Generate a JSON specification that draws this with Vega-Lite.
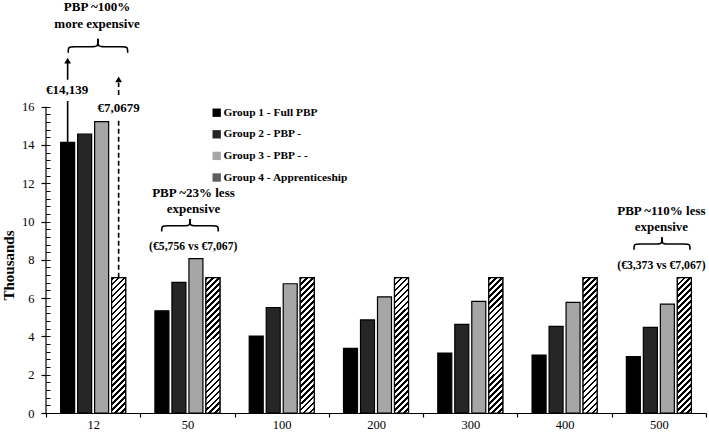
{
  "$schema": "https://vega.github.io/schema/vega-lite/v6.json",
  "width": 660,
  "height": 413,
  "autosize": {"type": "none"},
  "padding": {"left": 46, "top": 0, "right": 3, "bottom": 23},
  "background": "white",
  "config": {
    "view": {"stroke": null},
    "font": "Liberation Serif",
    "axis": {"labelFont": "Liberation Serif", "titleFont": "Liberation Serif", "labelColor": "#000", "titleColor": "#000", "tickColor": "#000", "domainColor": "#000", "grid": false},
    "legend": {"labelFont": "Liberation Serif"}
  },
  "datasets": {
    "costs": [
      {"size": "12", "group": "Group 1 - Full PBP", "cost": 14.139},
      {"size": "12", "group": "Group 2 - PBP -", "cost": 14.56},
      {"size": "12", "group": "Group 3 - PBP - -", "cost": 15.22},
      {"size": "12", "group": "Group 4 - Apprenticeship", "cost": 7.067},
      {"size": "50", "group": "Group 1 - Full PBP", "cost": 5.34},
      {"size": "50", "group": "Group 2 - PBP -", "cost": 6.82},
      {"size": "50", "group": "Group 3 - PBP - -", "cost": 8.06},
      {"size": "50", "group": "Group 4 - Apprenticeship", "cost": 7.067},
      {"size": "100", "group": "Group 1 - Full PBP", "cost": 4.02},
      {"size": "100", "group": "Group 2 - PBP -", "cost": 5.51},
      {"size": "100", "group": "Group 3 - PBP - -", "cost": 6.75},
      {"size": "100", "group": "Group 4 - Apprenticeship", "cost": 7.067},
      {"size": "200", "group": "Group 1 - Full PBP", "cost": 3.37},
      {"size": "200", "group": "Group 2 - PBP -", "cost": 4.86},
      {"size": "200", "group": "Group 3 - PBP - -", "cost": 6.07},
      {"size": "200", "group": "Group 4 - Apprenticeship", "cost": 7.067},
      {"size": "300", "group": "Group 1 - Full PBP", "cost": 3.13},
      {"size": "300", "group": "Group 2 - PBP -", "cost": 4.63},
      {"size": "300", "group": "Group 3 - PBP - -", "cost": 5.83},
      {"size": "300", "group": "Group 4 - Apprenticeship", "cost": 7.067},
      {"size": "400", "group": "Group 1 - Full PBP", "cost": 3.03},
      {"size": "400", "group": "Group 2 - PBP -", "cost": 4.52},
      {"size": "400", "group": "Group 3 - PBP - -", "cost": 5.78},
      {"size": "400", "group": "Group 4 - Apprenticeship", "cost": 7.067},
      {"size": "500", "group": "Group 1 - Full PBP", "cost": 2.94},
      {"size": "500", "group": "Group 2 - PBP -", "cost": 4.47},
      {"size": "500", "group": "Group 3 - PBP - -", "cost": 5.69},
      {"size": "500", "group": "Group 4 - Apprenticeship", "cost": 7.067}
    ],
    "arrows": [
      {"style": "solid", "x": 0.2295, "y": 14.139, "y2": 16.3},
      {"style": "solid", "x": 0.2295, "y": 17.4, "y2": 18.3},
      {"style": "dashed", "x": 0.7704, "y": 7.067, "y2": 15.4},
      {"style": "dashed", "x": 0.7704, "y": 16.61, "y2": 17.25}
    ],
    "heads": [
      {"x": 0.2295, "y": 18.4},
      {"x": 0.7704, "y": 17.42}
    ],
    "notes": [
      {"label": "PBP ~100%", "x": 0.541, "y": 21.19},
      {"label": "more expensive", "x": 0.541, "y": 20.32},
      {"label": "€14,139", "x": 0.223, "y": 16.87},
      {"label": "€7,0679", "x": 0.769, "y": 15.93},
      {"label": "PBP ~23% less", "x": 1.564, "y": 11.5},
      {"label": "expensive", "x": 1.564, "y": 10.66},
      {"label": "PBP ~110% less", "x": 6.527, "y": 10.55},
      {"label": "expensive", "x": 6.527, "y": 9.7}
    ],
    "comparisons": [
      {"label": "(€5,756 vs €7,067)", "x": 1.562, "y": 8.7},
      {"label": "(€3,373 vs €7,067)", "x": 6.527, "y": 7.74}
    ],
    "braces": [
      {"part": "a1", "order": 1, "x": 0.236, "y": 18.82},
      {"part": "a1", "order": 2, "x": 0.236, "y": 19.13},
      {"part": "a1", "order": 3, "x": 0.278, "y": 19.13},
      {"part": "a1", "order": 4, "x": 0.509, "y": 19.13},
      {"part": "a1", "order": 5, "x": 0.551, "y": 19.13},
      {"part": "a1", "order": 6, "x": 0.551, "y": 19.54},
      {"part": "a2", "order": 1, "x": 0.866, "y": 18.82},
      {"part": "a2", "order": 2, "x": 0.866, "y": 19.13},
      {"part": "a2", "order": 3, "x": 0.824, "y": 19.13},
      {"part": "a2", "order": 4, "x": 0.593, "y": 19.13},
      {"part": "a2", "order": 5, "x": 0.551, "y": 19.13},
      {"part": "a2", "order": 6, "x": 0.551, "y": 19.54},
      {"part": "b1", "order": 1, "x": 1.227, "y": 9.48},
      {"part": "b1", "order": 2, "x": 1.227, "y": 9.78},
      {"part": "b1", "order": 3, "x": 1.269, "y": 9.78},
      {"part": "b1", "order": 4, "x": 1.485, "y": 9.78},
      {"part": "b1", "order": 5, "x": 1.527, "y": 9.78},
      {"part": "b1", "order": 6, "x": 1.527, "y": 10.13},
      {"part": "b2", "order": 1, "x": 1.827, "y": 9.48},
      {"part": "b2", "order": 2, "x": 1.827, "y": 9.78},
      {"part": "b2", "order": 3, "x": 1.785, "y": 9.78},
      {"part": "b2", "order": 4, "x": 1.569, "y": 9.78},
      {"part": "b2", "order": 5, "x": 1.527, "y": 9.78},
      {"part": "b2", "order": 6, "x": 1.527, "y": 10.13},
      {"part": "c1", "order": 1, "x": 6.236, "y": 8.53},
      {"part": "c1", "order": 2, "x": 6.236, "y": 8.83},
      {"part": "c1", "order": 3, "x": 6.278, "y": 8.83},
      {"part": "c1", "order": 4, "x": 6.491, "y": 8.83},
      {"part": "c1", "order": 5, "x": 6.533, "y": 8.83},
      {"part": "c1", "order": 6, "x": 6.533, "y": 9.18},
      {"part": "c2", "order": 1, "x": 6.83, "y": 8.53},
      {"part": "c2", "order": 2, "x": 6.83, "y": 8.83},
      {"part": "c2", "order": 3, "x": 6.788, "y": 8.83},
      {"part": "c2", "order": 4, "x": 6.575, "y": 8.83},
      {"part": "c2", "order": 5, "x": 6.533, "y": 8.83},
      {"part": "c2", "order": 6, "x": 6.533, "y": 9.18}
    ]
  },
  "layer": [
    {
      "data": {"name": "costs"},
      "mark": {"type": "bar", "stroke": "#000", "strokeWidth": 1.2},
      "encoding": {
        "x": {
          "field": "size", "type": "ordinal",
          "sort": ["12", "50", "100", "200", "300", "400", "500"],
          "scale": {"paddingInner": 0, "paddingOuter": 0},
          "axis": {"title": null, "tickBand": "extent", "labelAngle": 0, "labelFontSize": 12.5, "labelPadding": 1, "tickSize": 4, "domainWidth": 1.2, "tickWidth": 1.2}
        },
        "xOffset": {
          "field": "group", "type": "nominal",
          "scale": {"domain": ["Group 1 - Full PBP", "Group 2 - PBP -", "Group 3 - PBP - -", "Group 4 - Apprenticeship"], "paddingInner": 0.176, "paddingOuter": 0.861}
        },
        "y": {
          "field": "cost", "type": "quantitative",
          "scale": {"domain": [0, 21.57], "nice": false},
          "axis": {
            "title": "Thousands", "values": [0, 2, 4, 6, 8, 10, 12, 14, 16],
            "domain": false, "tickSize": 5, "tickWidth": 1.2, "labelFontSize": 12.5, "labelPadding": 7,
            "titleFontSize": 15, "titleFontWeight": "bold", "titleAngle": 270,
            "titleX": -33, "titleY": 265, "titleBaseline": "alphabetic", "titleAlign": "center"
          }
        },
        "fill": {
          "field": "group", "type": "nominal",
          "scale": {
            "domain": ["Group 1 - Full PBP", "Group 2 - PBP -", "Group 3 - PBP - -", "Group 4 - Apprenticeship"],
            "range": ["#000000", "#262626", "#a6a6a6", "#5e5e5e"]
          },
          "legend": {
            "orient": "none", "legendX": 165, "legendY": 107, "title": null, "padding": 0,
            "symbolType": "square", "symbolSize": 70, "symbolStrokeColor": "#000", "symbolStrokeWidth": 1,
            "labelFontSize": 11.4, "labelFontWeight": "bold", "labelColor": "#000", "labelOffset": 1, "rowPadding": 8.6,
            "encode": {
              "symbols": {
                "update": {
                  "fill": [
                    {
                      "test": "datum.value === 'Group 4 - Apprenticeship'",
                      "value": {
                        "gradient": "linear", "x1": 0, "y1": 0, "x2": 1, "y2": 1,
                        "stops": [
                          {"offset": 0, "color": "#333"}, {"offset": 0.1, "color": "#333"}, {"offset": 0.1, "color": "#ddd"}, {"offset": 0.2, "color": "#ddd"},
                          {"offset": 0.2, "color": "#333"}, {"offset": 0.3, "color": "#333"}, {"offset": 0.3, "color": "#ddd"}, {"offset": 0.4, "color": "#ddd"},
                          {"offset": 0.4, "color": "#333"}, {"offset": 0.5, "color": "#333"}, {"offset": 0.5, "color": "#ddd"}, {"offset": 0.6, "color": "#ddd"},
                          {"offset": 0.6, "color": "#333"}, {"offset": 0.7, "color": "#333"}, {"offset": 0.7, "color": "#ddd"}, {"offset": 0.8, "color": "#ddd"},
                          {"offset": 0.8, "color": "#333"}, {"offset": 0.9, "color": "#333"}, {"offset": 0.9, "color": "#ddd"}, {"offset": 1, "color": "#ddd"}
                        ]
                      }
                    },
                    {"scale": "fill", "field": "value"}
                  ]
                }
              }
            }
          }
        }
      }
    },
    {
      "data": {"name": "costs"},
      "transform": [{"filter": "datum.group === 'Group 4 - Apprenticeship'"}],
      "mark": {
        "type": "bar", "stroke": "#000", "strokeWidth": 1.2,
        "fill": {
          "gradient": "linear", "x1": 0, "y1": 0, "x2": 0.1129, "y2": 1.0917,
          "stops": [
            {"offset": 0, "color": "#000"}, {"offset": 0.018, "color": "#000"}, {"offset": 0.018, "color": "#fff"}, {"offset": 0.04, "color": "#fff"},
            {"offset": 0.04, "color": "#000"}, {"offset": 0.058, "color": "#000"}, {"offset": 0.058, "color": "#fff"}, {"offset": 0.08, "color": "#fff"},
            {"offset": 0.08, "color": "#000"}, {"offset": 0.098, "color": "#000"}, {"offset": 0.098, "color": "#fff"}, {"offset": 0.12, "color": "#fff"},
            {"offset": 0.12, "color": "#000"}, {"offset": 0.138, "color": "#000"}, {"offset": 0.138, "color": "#fff"}, {"offset": 0.16, "color": "#fff"},
            {"offset": 0.16, "color": "#000"}, {"offset": 0.178, "color": "#000"}, {"offset": 0.178, "color": "#fff"}, {"offset": 0.2, "color": "#fff"},
            {"offset": 0.2, "color": "#000"}, {"offset": 0.218, "color": "#000"}, {"offset": 0.218, "color": "#fff"}, {"offset": 0.24, "color": "#fff"},
            {"offset": 0.24, "color": "#000"}, {"offset": 0.258, "color": "#000"}, {"offset": 0.258, "color": "#fff"}, {"offset": 0.28, "color": "#fff"},
            {"offset": 0.28, "color": "#000"}, {"offset": 0.298, "color": "#000"}, {"offset": 0.298, "color": "#fff"}, {"offset": 0.32, "color": "#fff"},
            {"offset": 0.32, "color": "#000"}, {"offset": 0.338, "color": "#000"}, {"offset": 0.338, "color": "#fff"}, {"offset": 0.36, "color": "#fff"},
            {"offset": 0.36, "color": "#000"}, {"offset": 0.378, "color": "#000"}, {"offset": 0.378, "color": "#fff"}, {"offset": 0.4, "color": "#fff"},
            {"offset": 0.4, "color": "#000"}, {"offset": 0.418, "color": "#000"}, {"offset": 0.418, "color": "#fff"}, {"offset": 0.44, "color": "#fff"},
            {"offset": 0.44, "color": "#000"}, {"offset": 0.458, "color": "#000"}, {"offset": 0.458, "color": "#fff"}, {"offset": 0.48, "color": "#fff"},
            {"offset": 0.48, "color": "#000"}, {"offset": 0.498, "color": "#000"}, {"offset": 0.498, "color": "#fff"}, {"offset": 0.52, "color": "#fff"},
            {"offset": 0.52, "color": "#000"}, {"offset": 0.538, "color": "#000"}, {"offset": 0.538, "color": "#fff"}, {"offset": 0.56, "color": "#fff"},
            {"offset": 0.56, "color": "#000"}, {"offset": 0.578, "color": "#000"}, {"offset": 0.578, "color": "#fff"}, {"offset": 0.6, "color": "#fff"},
            {"offset": 0.6, "color": "#000"}, {"offset": 0.618, "color": "#000"}, {"offset": 0.618, "color": "#fff"}, {"offset": 0.64, "color": "#fff"},
            {"offset": 0.64, "color": "#000"}, {"offset": 0.658, "color": "#000"}, {"offset": 0.658, "color": "#fff"}, {"offset": 0.68, "color": "#fff"},
            {"offset": 0.68, "color": "#000"}, {"offset": 0.698, "color": "#000"}, {"offset": 0.698, "color": "#fff"}, {"offset": 0.72, "color": "#fff"},
            {"offset": 0.72, "color": "#000"}, {"offset": 0.738, "color": "#000"}, {"offset": 0.738, "color": "#fff"}, {"offset": 0.76, "color": "#fff"},
            {"offset": 0.76, "color": "#000"}, {"offset": 0.778, "color": "#000"}, {"offset": 0.778, "color": "#fff"}, {"offset": 0.8, "color": "#fff"},
            {"offset": 0.8, "color": "#000"}, {"offset": 0.818, "color": "#000"}, {"offset": 0.818, "color": "#fff"}, {"offset": 0.84, "color": "#fff"},
            {"offset": 0.84, "color": "#000"}, {"offset": 0.858, "color": "#000"}, {"offset": 0.858, "color": "#fff"}, {"offset": 0.88, "color": "#fff"},
            {"offset": 0.88, "color": "#000"}, {"offset": 0.898, "color": "#000"}, {"offset": 0.898, "color": "#fff"}, {"offset": 0.92, "color": "#fff"},
            {"offset": 0.92, "color": "#000"}, {"offset": 0.938, "color": "#000"}, {"offset": 0.938, "color": "#fff"}, {"offset": 0.96, "color": "#fff"},
            {"offset": 0.96, "color": "#000"}, {"offset": 0.978, "color": "#000"}, {"offset": 0.978, "color": "#fff"}, {"offset": 1, "color": "#fff"}
          ]
        }
      },
      "encoding": {
        "x": {
          "field": "size", "type": "ordinal",
          "sort": ["12", "50", "100", "200", "300", "400", "500"],
          "scale": {"domain": ["12", "50", "100", "200", "300", "400", "500"], "paddingInner": 0, "paddingOuter": 0},
          "axis": null
        },
        "xOffset": {
          "field": "group", "type": "nominal",
          "scale": {"domain": ["Group 1 - Full PBP", "Group 2 - PBP -", "Group 3 - PBP - -", "Group 4 - Apprenticeship"], "paddingInner": 0.176, "paddingOuter": 0.861}
        },
        "y": {"field": "cost", "type": "quantitative", "scale": {"domain": [0, 21.57], "nice": false}, "axis": null}
      }
    },
    {
      "data": {"values": [{}]},
      "mark": {"type": "rule", "color": "#000", "strokeWidth": 1.2},
      "encoding": {
        "x": {"datum": 0, "type": "quantitative", "scale": {"domain": [0, 7], "nice": false, "zero": false}, "axis": null},
        "y": {
          "datum": 0, "type": "quantitative",
          "scale": {"domain": [0, 21.57], "nice": false},
          "axis": {
            "orient": "left", "title": null, "labels": false, "domain": false, "tickSize": -4, "tickWidth": 1,
            "values": [0, 0.4, 0.8, 1.2, 1.6, 2, 2.4, 2.8, 3.2, 3.6, 4, 4.4, 4.8, 5.2, 5.6, 6, 6.4, 6.8, 7.2, 7.6, 8, 8.4, 8.8, 9.2, 9.6, 10, 10.4, 10.8, 11.2, 11.6, 12, 12.4, 12.8, 13.2, 13.6, 14, 14.4, 14.8, 15.2, 15.6, 16]
          }
        },
        "y2": {"datum": 16}
      }
    },
    {
      "data": {"name": "arrows"},
      "mark": {"type": "rule", "color": "#000", "strokeWidth": 1.6},
      "encoding": {
        "x": {"field": "x", "type": "quantitative", "scale": {"domain": [0, 7], "nice": false, "zero": false}, "axis": null},
        "y": {"field": "y", "type": "quantitative", "scale": {"domain": [0, 21.57], "nice": false}, "axis": null},
        "y2": {"field": "y2"},
        "strokeDash": {"field": "style", "type": "nominal", "scale": {"domain": ["solid", "dashed"], "range": [[1, 0], [5, 3]]}, "legend": null}
      }
    },
    {
      "data": {"name": "heads"},
      "mark": {"type": "point", "shape": "triangle-up", "filled": true, "color": "#000", "size": 45, "opacity": 1},
      "encoding": {
        "x": {"field": "x", "type": "quantitative", "scale": {"domain": [0, 7], "nice": false, "zero": false}, "axis": null},
        "y": {"field": "y", "type": "quantitative", "scale": {"domain": [0, 21.57], "nice": false}, "axis": null}
      }
    },
    {
      "data": {"name": "braces"},
      "mark": {"type": "line", "color": "#000", "strokeWidth": 1.6, "interpolate": "basis"},
      "encoding": {
        "x": {"field": "x", "type": "quantitative", "scale": {"domain": [0, 7], "nice": false, "zero": false}, "axis": null},
        "y": {"field": "y", "type": "quantitative", "scale": {"domain": [0, 21.57], "nice": false}, "axis": null},
        "detail": {"field": "part", "type": "nominal"},
        "order": {"field": "order", "type": "quantitative"}
      }
    },
    {
      "data": {"name": "notes"},
      "mark": {"type": "text", "font": "Liberation Serif", "fontSize": 13, "fontWeight": "bold", "color": "#000", "align": "center", "baseline": "middle"},
      "encoding": {
        "x": {"field": "x", "type": "quantitative", "scale": {"domain": [0, 7], "nice": false, "zero": false}, "axis": null},
        "y": {"field": "y", "type": "quantitative", "scale": {"domain": [0, 21.57], "nice": false}, "axis": null},
        "text": {"field": "label", "type": "nominal"}
      }
    },
    {
      "data": {"name": "comparisons"},
      "mark": {"type": "text", "font": "Liberation Serif", "fontSize": 11.7, "fontWeight": "bold", "color": "#000", "align": "center", "baseline": "middle"},
      "encoding": {
        "x": {"field": "x", "type": "quantitative", "scale": {"domain": [0, 7], "nice": false, "zero": false}, "axis": null},
        "y": {"field": "y", "type": "quantitative", "scale": {"domain": [0, 21.57], "nice": false}, "axis": null},
        "text": {"field": "label", "type": "nominal"}
      }
    }
  ],
  "resolve": {
    "scale": {"x": "independent", "y": "independent"},
    "axis": {"x": "independent", "y": "independent"}
  }
}
